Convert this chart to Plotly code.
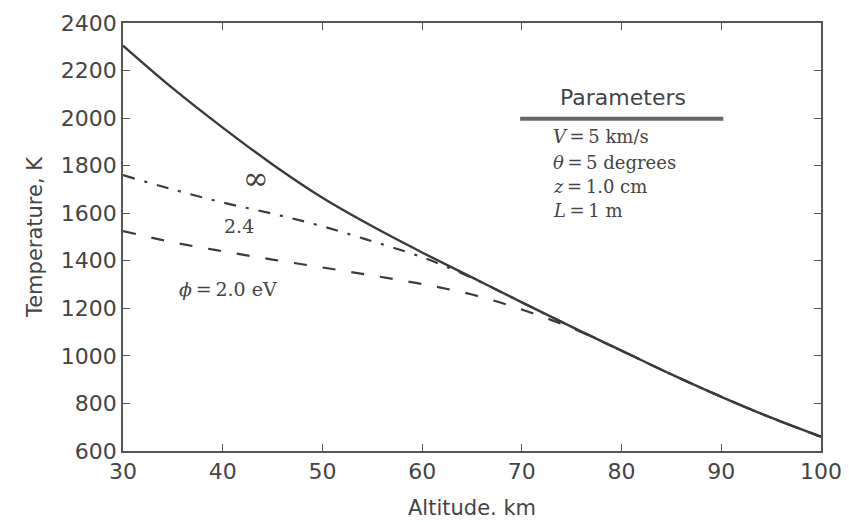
import plotly.graph_objects as go

altitude_km = [30, 35, 40, 45, 50, 55, 60, 65, 70, 75, 80, 85, 90, 95, 100]
temp_inf = [2305, 2125, 1960, 1805, 1665, 1545, 1435, 1330, 1225, 1122, 1022, 922, 828, 740, 660]
temp_phi24 = [1760, 1700, 1645, 1598, 1545, 1482, 1415, 1328, 1225, 1122, 1022, 922, 828, 740, 660]
temp_phi20 = [1525, 1478, 1440, 1405, 1372, 1338, 1302, 1258, 1195, 1117, 1022, 922, 828, 740, 660]

x_ticks = [30, 40, 50, 60, 70, 80, 90, 100]
y_ticks = [600, 800, 1000, 1200, 1400, 1600, 1800, 2000, 2200, 2400]

params_title = "Parameters"
params_lines = ["<i>V</i>\u2009=\u20095 km/s", "<i>θ</i>\u2009=\u20095 degrees", "<i>z</i>\u2009=\u20091.0 cm", "<i>L</i>\u2009=\u20091 m"]

line_color = "#3a3a3a"
text_color = "#444444"
serif = "DejaVu Serif"
sans = "DejaVu Sans"

fig = go.Figure()
fig.add_trace(go.Scatter(x=altitude_km, y=temp_phi20, mode="lines", line=dict(color=line_color, width=2.2, dash="13px,16px", shape="spline"), showlegend=False))
fig.add_trace(go.Scatter(x=altitude_km, y=temp_phi24, mode="lines", line=dict(color=line_color, width=2.2, dash="12px,10px,3px,10px", shape="spline"), showlegend=False))
fig.add_trace(go.Scatter(x=altitude_km, y=temp_inf, mode="lines", line=dict(color=line_color, width=2.4, shape="spline"), showlegend=False))

ann = []
ann.append(dict(x=43.3, y=1750, text="∞", showarrow=False, xanchor="center", yanchor="middle",
                font=dict(family=serif, size=31, color=text_color)))
ann.append(dict(x=41.6, y=1545, text="2.4", showarrow=False, xanchor="center", yanchor="middle",
                font=dict(family=serif, size=19, color=text_color)))
ann.append(dict(x=40.5, y=1283, text="<i>ϕ</i>\u2009=\u20092.0 eV", showarrow=False, xanchor="center", yanchor="middle",
                font=dict(family=serif, size=19, color=text_color)))
ann.append(dict(x=0.716, y=0.825, xref="paper", yref="paper", text=params_title, showarrow=False,
                xanchor="center", yanchor="middle", font=dict(family=sans, size=22, color=text_color)))
line_y = [0.734, 0.675, 0.619, 0.561]
for t, yy in zip(params_lines, line_y):
    ann.append(dict(x=0.613, y=yy, xref="paper", yref="paper", xanchor="left", yanchor="middle", text=t, showarrow=False,
                    font=dict(family=serif, size=18, color=text_color)))

fig.update_layout(
    width=841, height=514,
    margin=dict(l=115, r=28, t=15, b=71),
    paper_bgcolor="white", plot_bgcolor="white",
    annotations=ann,
    shapes=[dict(type="line", xref="paper", yref="paper", x0=0.569, x1=0.860, y0=0.776, y1=0.776,
                 line=dict(color="#666666", width=4))],
    xaxis=dict(range=[30, 100], tickvals=x_ticks, ticks="inside", ticklen=7, tickwidth=1.2, tickcolor="#555",
               showline=True, linecolor="#555", linewidth=1.8, mirror="allticks", showgrid=False, zeroline=False,
               automargin=False,
               tickfont=dict(family=sans, size=22, color=text_color),
               title=dict(text="Altitude. km", font=dict(family=sans, size=21, color=text_color), standoff=17)),
    yaxis=dict(range=[600, 2400], tickvals=y_ticks, ticks="inside", ticklen=7, tickwidth=1.2, tickcolor="#555",
               showline=True, linecolor="#555", linewidth=1.8, mirror="allticks", showgrid=False, zeroline=False,
               automargin=False,
               tickfont=dict(family=sans, size=22, color=text_color),
               title=dict(text="Temperature, K", font=dict(family=sans, size=21, color=text_color), standoff=12)),
)
fig.write_html("out.html")
